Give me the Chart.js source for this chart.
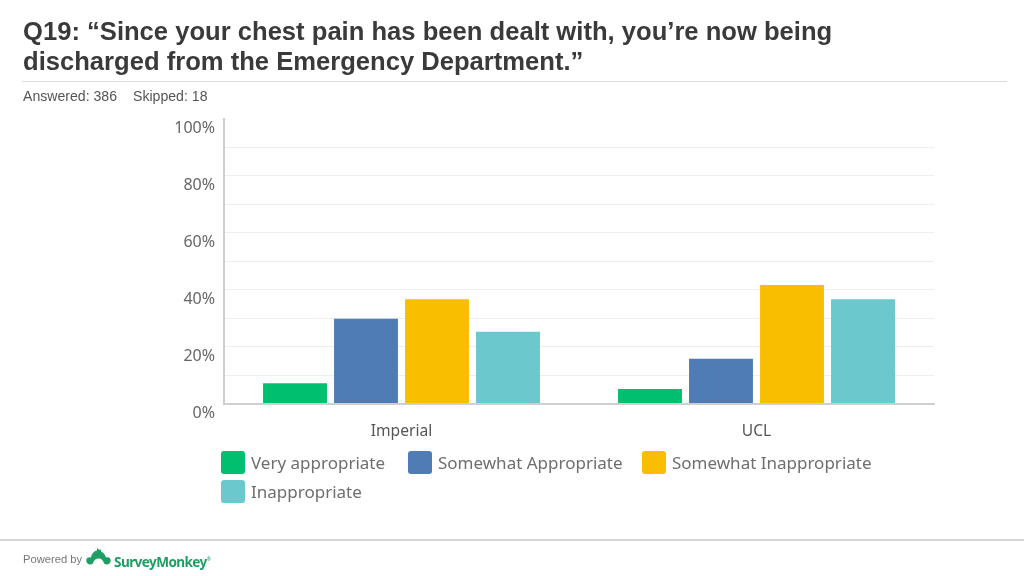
<!DOCTYPE html>
<html>
<head>
<meta charset="utf-8">
<title>Q19</title>
<script src="https://cdn.jsdelivr.net/npm/chart.js@4"></script>
<style>
    html, body { margin: 0; padding: 0; background: #fff; }
    body { width: 1024px; height: 576px; position: relative; overflow: hidden; font-family: "Liberation Sans", sans-serif; }
    h1 { position: absolute; left: 23px; top: 16px; margin: 0; font-size: 25.6px; line-height: 30px; font-weight: bold; color: #3a3a3a; width: 960px; }
    #topRule { position: absolute; left: 22px; top: 81px; width: 985px; height: 1px; background: #dcdcdc; }
    #counts { position: absolute; left: 23px; top: 88px; font-size: 14.1px; line-height: 16px; color: #555; }
    #counts span { margin-right: 16px; }
    #legend { position: absolute; left: 221px; top: 450px; width: 700px; font-family: "Noto Sans", sans-serif; font-size: 17px; color: #6e6e6e; }
    .legend-item { position: absolute; display: flex; align-items: center; height: 24px; white-space: nowrap; }
    .legend-box { width: 24px; height: 23px; border-radius: 3px; margin-right: 6px; }
    #bottomRule { position: absolute; left: 0; top: 539px; width: 1024px; height: 1.5px; background: #d8d8d8; }
    #powered { position: absolute; left: 23px; top: 552px; font-size: 11.2px; line-height: 14px; color: #777; }
    #logoIcon { position: absolute; left: 86px; top: 548px; }
    #logoText { position: absolute; left: 114px; top: 550px; font-family: "Noto Sans", sans-serif; font-size: 13.6px; line-height: 18px; font-weight: bold; color: #1f9e63; letter-spacing: -0.6px; }
</style>
</head>
<body>
<canvas id="surveyChart" width="1024" height="576" style="position:absolute;left:0;top:0"></canvas>
<h1>Q19: “Since your chest pain has been dealt with, you’re now being<br>discharged from the Emergency Department.”</h1>
<div id="topRule"></div>
<div id="counts"><span>Answered: 386</span>Skipped: 18</div>
<div id="legend"></div>
<div id="bottomRule"></div>
<div id="powered">Powered by</div>
<svg id="logoIcon" width="25" height="19" viewBox="0 0 25 19">
    <path fill="#1f9e63" d="M11 0 L13.5 2 L15 1.5 L15 3.5 C18 5 19.5 7.5 20 9.5 C23 8.5 25 10.5 24.7 13 C24.4 16.5 20.5 17.5 18 15.5 C17.5 12.5 15.5 10.5 12.5 10.5 C9.5 10.5 7.5 12.5 7 15.5 C4.5 17.5 0.6 16.5 0.3 13 C0 10.5 2 8.5 5 9.5 C5.5 6 8 3 11 2.5 Z"/>
</svg>
<div id="logoText">SurveyMonkey<sup style="font-size:5px;font-weight:normal">®</sup></div>

<script>
const categories = ['Imperial', 'UCL'];
const seriesNames = ['Very appropriate', 'Somewhat Appropriate', 'Somewhat Inappropriate', 'Inappropriate'];
const veryAppropriate = [7.1, 5.1];
const somewhatAppropriate = [29.7, 15.7];
const somewhatInappropriate = [36.6, 41.6];
const inappropriate = [25.2, 36.6];
const seriesColors = ['#00bf6f', '#507cb6', '#f9be00', '#6bc8cd'];
const legendLeft = [0, 187, 421, 0];
const legendTop = [0, 0, 0, 29];

const seriesValues = [veryAppropriate, somewhatAppropriate, somewhatInappropriate, inappropriate];

const ctx = document.getElementById('surveyChart').getContext('2d');
const surveyChart = new Chart(ctx, {
    type: 'bar',
    data: {
        labels: categories,
        datasets: seriesNames.map((name, i) => ({
            label: name,
            data: seriesValues[i],
            backgroundColor: seriesColors[i],
            categoryPercentage: 0.8,
            barPercentage: 0.9
        }))
    },
    options: {
        responsive: false,
        animation: false,
        layout: { padding: { top: 118.5, right: 90 } },
        plugins: { legend: { display: false }, tooltip: { enabled: false } },
        scales: {
            x: {
                afterFit: axis => { axis.height = 172.5; },
                grid: { display: false, drawTicks: false },
                border: { color: '#cfcfcf', width: 2 },
                ticks: { color: '#555555', padding: 19, font: { family: 'Noto Sans', size: 15.6 } }
            },
            y: {
                min: 0,
                max: 100,
                afterFit: axis => { axis.width = 224; },
                // no line along the 100% tick in the reference
                grid: {
                    color: c => (c.tick && c.tick.value === 100 ? 'rgba(0,0,0,0)' : '#eeeeee'),
                    drawTicks: false
                },
                border: { color: '#cfcfcf', width: 2 },
                ticks: {
                    stepSize: 10,
                    autoSkip: false,
                    padding: 9,
                    labelOffset: 10,
                    color: '#666666',
                    font: { family: 'Noto Sans', size: 16 },
                    callback: value => (value % 20 === 0 ? value + '%' : '')
                }
            }
        }
    }
});

// Legend is laid out by hand, two rows like the survey export
const legend = document.getElementById('legend');
surveyChart.data.datasets.forEach((dataset, i) => {
    const item = document.createElement('div');
    item.className = 'legend-item';
    item.style.left = legendLeft[i] + 'px';
    item.style.top = legendTop[i] + 'px';
    const box = document.createElement('div');
    box.className = 'legend-box';
    box.style.background = dataset.backgroundColor;
    item.appendChild(box);
    item.appendChild(document.createTextNode(dataset.label));
    legend.appendChild(item);
});
</script>
</body>
</html>
